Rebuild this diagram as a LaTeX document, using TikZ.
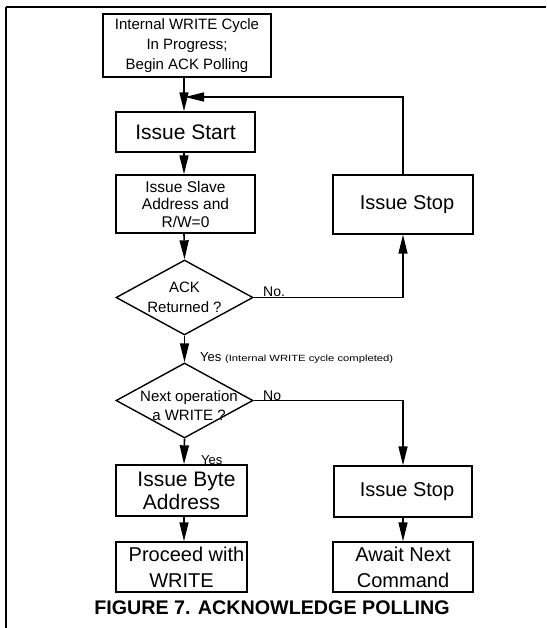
\documentclass[tikz,border=0pt]{standalone}
\usepackage{fontspec}
\usepackage{graphicx}
\setmainfont{Liberation Sans}
\usetikzlibrary{shapes.geometric,arrows.meta}
\begin{document}
\begin{tikzpicture}[x=1pt,y=-1pt,
  box/.style={draw, line width=1.4pt, rectangle, inner sep=0pt, align=center},
  dia/.style={draw, line width=1.4pt, diamond, inner sep=0pt},
  flow/.style={line width=1.6pt, -{Triangle[length=19pt,width=9pt]}},
  lbl/.style={inner sep=0pt, anchor=base west},
  fa/.style={font=\fontsize{15}{20}\selectfont},
  fb/.style={font=\fontsize{21}{23}\selectfont},
  fc/.style={font=\fontsize{20}{26}\selectfont}
]
\useasboundingbox (0,0) rectangle (546,628);
% frame
\coordinate (ftl) at (6,7);
\coordinate (ftr) at (546,7);
\coordinate (fbl) at (6,628);
\draw[line width=2pt] (ftr) -- (ftl);
\draw[line width=1.5pt] (ftl) -- (fbl);

\coordinate (col) at (184,0);
\coordinate (join) at (185,97);

\node[box, fa, minimum width=168pt, minimum height=63pt] (top) at (187,45.5)
  {Internal WRITE Cycle\\In Progress;\\Begin ACK Polling};
\node[box, fb, minimum width=139pt, minimum height=40pt] (start) at (185.5,132) {Issue Start};
\node[box, font=\fontsize{15.5}{17.5}\selectfont, minimum width=139pt, minimum height=58pt] (slave) at (185.5,204)
  {Issue Slave\\Address and\\R/W=0};
\node[box, fc, minimum width=140pt, minimum height=59pt] (stop1) at (403,204.5) {\hspace*{8pt}Issue Stop};
\node[dia, minimum width=137pt, minimum height=75pt] (ack) at (184.5,297.5) {};
\node[fa, align=center, inner sep=0pt] (acktxt) at (ack.center) {ACK\\Returned ?};
\node[dia, minimum width=137pt, minimum height=75pt] (next) at (184.5,400.5) {};
\node[font=\fontsize{15}{19}\selectfont, align=center, inner sep=0pt] (nexttxt) at (189,406) {Next operation\\a WRITE ?};
\node[box, fb, minimum width=131pt, minimum height=51pt] (byte) at (181.5,490.5) {\hspace*{10pt}Issue Byte\\Address};
\node[box, fc, minimum width=138pt, minimum height=51pt] (stop2) at (403,491.5) {\hspace*{8pt}Issue Stop};
\node[box, fc, minimum width=131pt, minimum height=50pt] (proceed) at (181.5,567) {\hspace*{10pt}Proceed with\\WRITE};
\node[box, fc, minimum width=140pt, minimum height=50pt] (await) at (403,567) {Await Next\\Command};

% labels
\node[lbl, font=\fontsize{14}{14}\selectfont] (no1) at (263,296) {No.};
\node[lbl, font=\fontsize{14}{14}\selectfont] (no2) at (263,400) {No};
\node[lbl, font=\fontsize{13}{13}\selectfont] (yes1) at (200,361) {Yes \scalebox{1.25}[1]{\fontsize{9}{9}\selectfont(Internal WRITE cycle completed)}};
\node[lbl, font=\fontsize{13}{13}\selectfont] (yes2) at (201,464) {Yes};

% caption
\node[font=\bfseries\fontsize{19.7}{20}\selectfont, inner sep=0pt] (cap) at (272,608) {FIGURE 7. ACKNOWLEDGE POLLING};

% connectors
\draw[flow] (top.south -| col) -- (start.north -| col);
\draw[flow] (stop1.north) |- (join);
\draw[flow] (start.south -| col) -- (slave.north -| col);
\draw[flow] (slave.south -| col) -- (ack.north);
\draw[flow] (ack.east) -| (stop1.south);
\draw[flow] (ack.south) -- (next.north);
\draw[flow] (next.east) -| (stop2.north);
\draw[flow] (next.south) -- (byte.north -| col);
\draw[flow] (byte.south -| col) -- (proceed.north -| col);
\draw[flow] (stop2.south) -- (await.north);
\end{tikzpicture}
\end{document}
